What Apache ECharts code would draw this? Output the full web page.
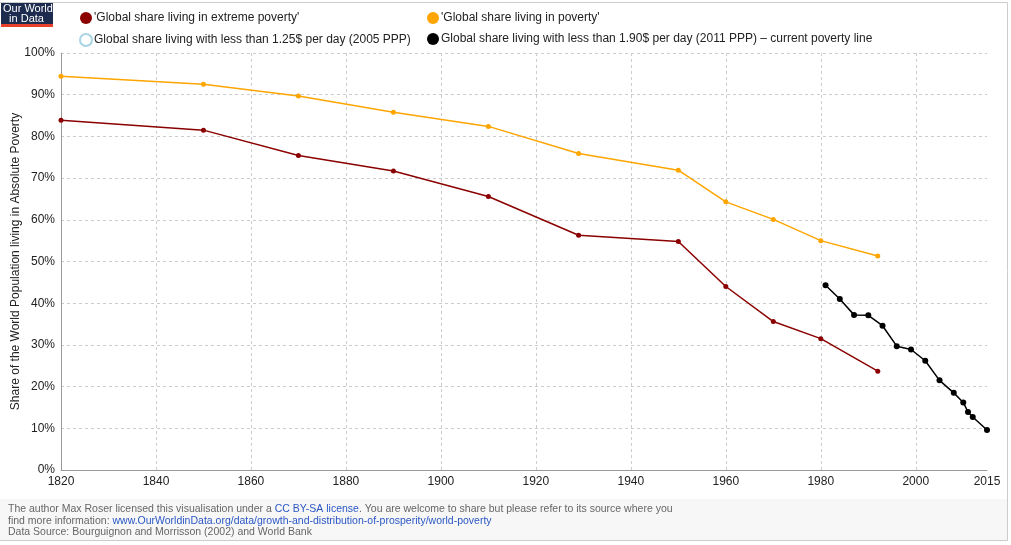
<!DOCTYPE html>
<html>
<head>
<meta charset="utf-8">
<script src="https://cdn.jsdelivr.net/npm/echarts@6/dist/echarts.min.js"></script>
<style>
html,body{margin:0;padding:0;background:#fff;}
#chart{width:1011px;height:545px;}
</style>
</head>
<body>
<div id="chart"></div>
<script>
// ---- Data ----
const extremeYears = [1820, 1850, 1870, 1890, 1910, 1929, 1950, 1960, 1970, 1980, 1992];
const extremeValues = [83.9, 81.5, 75.4, 71.7, 65.6, 56.3, 54.8, 44.0, 35.6, 31.5, 23.7];
const povertyYears = [1820, 1850, 1870, 1890, 1910, 1929, 1950, 1960, 1970, 1980, 1992];
const povertyValues = [94.4, 92.5, 89.7, 85.8, 82.4, 75.9, 71.9, 64.3, 60.1, 55.0, 51.3];
const wb125Years = [];
const wb125Values = [];
const wb190Years = [1981, 1984, 1987, 1990, 1993, 1996, 1999, 2002, 2005, 2008, 2010, 2011, 2012, 2015];
const wb190Values = [44.3, 41.0, 37.2, 37.1, 34.6, 29.7, 28.9, 26.2, 21.5, 18.5, 16.2, 13.9, 12.7, 9.6];
const seriesNames = [
  "'Global share living in extreme poverty'",
  "'Global share living in poverty'",
  "Global share living with less than 1.25$ per day (2005 PPP)",
  "Global share living with less than 1.90$ per day (2011 PPP) \u2013 current poverty line"
];
const yAxisTitle = "Share of the World Population living in Absolute Poverty";
const xMin = 1820, xMax = 2015, xStep = 20;
const yMin = 0, yMax = 100, yStep = 10;

const pairs = (xs, ys) => xs.map((x, i) => [x, ys[i]]);
const FONT = '"Liberation Sans", Arial, sans-serif';

const chart = echarts.init(document.getElementById('chart'), null, {renderer: 'canvas'});
const legendText = {fontFamily: FONT, fontSize: 12, color: '#222', padding: [0, 0, 0, -3]};
const option = {
  backgroundColor: '#fff',
  animation: false,
  grid: {left: 61, right: 24, top: 53, bottom: 75, containLabel: false, outerBoundsMode: 'none'},
  legend: [
    {
      orient: 'vertical', left: 74, top: 7, itemWidth: 12, itemHeight: 12, itemGap: 9,
      icon: 'circle', textStyle: legendText,
      data: [
        {name: seriesNames[0]},
        {name: seriesNames[2], itemStyle: {color: '#fff', borderColor: '#a9d3e6', borderWidth: 2}}
      ]
    },
    {
      orient: 'vertical', left: 422, top: 7, itemWidth: 12, itemHeight: 12, itemGap: 9,
      icon: 'circle', textStyle: legendText,
      data: [{name: seriesNames[1]}, {name: seriesNames[3]}]
    }
  ],
  xAxis: {
    type: 'value', min: xMin, max: xMax, interval: xStep,
    axisLine: {show: true, lineStyle: {color: '#999', width: 1}},
    axisTick: {show: false},
    axisLabel: {fontFamily: FONT, fontSize: 12, color: '#222', margin: 6, showMaxLabel: true, hideOverlap: false,
      formatter: v => String(v)},
    splitLine: {show: true, showMinLine: false, showMaxLine: false, lineStyle: {color: '#ccc', type: [3, 3], width: 1}}
  },
  yAxis: {
    type: 'value', min: yMin, max: yMax, interval: yStep,
    name: yAxisTitle, nameLocation: 'middle', nameGap: 39, nameRotate: 90, nameMoveOverlap: false,
    nameTextStyle: {fontFamily: FONT, fontSize: 12, color: '#222'},
    axisLine: {show: true, lineStyle: {color: '#999', width: 1}},
    axisTick: {show: false},
    axisLabel: {fontFamily: FONT, fontSize: 12, color: '#222', margin: 6, formatter: '{value}%'},
    splitLine: {show: true, showMinLine: false, lineStyle: {color: '#ccc', type: [3, 3], width: 1}}
  },
  series: [
    {
      name: seriesNames[0], type: 'line', data: pairs(extremeYears, extremeValues),
      symbol: 'circle', symbolSize: 5,
      lineStyle: {color: '#8b0000', width: 1.5},
      itemStyle: {color: '#8b0000'}
    },
    {
      name: seriesNames[1], type: 'line', data: pairs(povertyYears, povertyValues),
      symbol: 'circle', symbolSize: 5,
      lineStyle: {color: '#ffa500', width: 1.5},
      itemStyle: {color: '#ffa500'}
    },
    {
      name: seriesNames[2], type: 'line', data: pairs(wb125Years, wb125Values),
      symbol: 'circle', symbolSize: 6,
      lineStyle: {color: '#a9d3e6', width: 1.5},
      itemStyle: {color: '#fff', borderColor: '#a9d3e6', borderWidth: 2}
    },
    {
      name: seriesNames[3], type: 'line', data: pairs(wb190Years, wb190Values),
      symbol: 'circle', symbolSize: 6,
      lineStyle: {color: '#000', width: 1.5},
      itemStyle: {color: '#000'}
    }
  ],
  graphic: [
    // footer background
    {type: 'rect', left: 0, top: 499, shape: {width: 1007, height: 41}, style: {fill: '#f7f7f7'}, z: -10},
    // frame
    {type: 'polyline', shape: {points: [[0, 2.5], [1007.5, 2.5], [1007.5, 540.5], [0, 540.5]]}, style: {stroke: '#cccccc', lineWidth: 1, fill: null}, z: 10},
    // logo
    {type: 'rect', left: 1, top: 3, shape: {width: 52, height: 24}, style: {fill: '#1d2b4f'}, z: 20},
    {type: 'rect', left: 1, top: 24, shape: {width: 52, height: 3}, style: {fill: '#e8412b'}, z: 21},
    {type: 'text', left: 3, top: 3, z: 22, style: {text: 'Our World\n  in Data', fill: '#fff', font: '11px ' + FONT, lineHeight: 10.5}},
    // footer text
    {
      type: 'text', left: 8, top: 504, z: 20,
      style: {
        text: '{g|The author Max Roser licensed this visualisation under a }{b|CC BY-SA license}{g|. You are welcome to share but please refer to its source where you}\n' +
              '{g|find more information: }{b|www.OurWorldinData.org/data/growth-and-distribution-of-prosperity/world-poverty}\n' +
              '{g|Data Source: Bourguignon and Morrisson (2002) and World Bank}',
        rich: {
          g: {fill: '#666', font: '10.5px ' + FONT, lineHeight: 11.5},
          b: {fill: '#2a57c4', font: '10.5px ' + FONT, lineHeight: 11.5}
        }
      }
    }
  ]
};
chart.setOption(option);
</script>
</body>
</html>
